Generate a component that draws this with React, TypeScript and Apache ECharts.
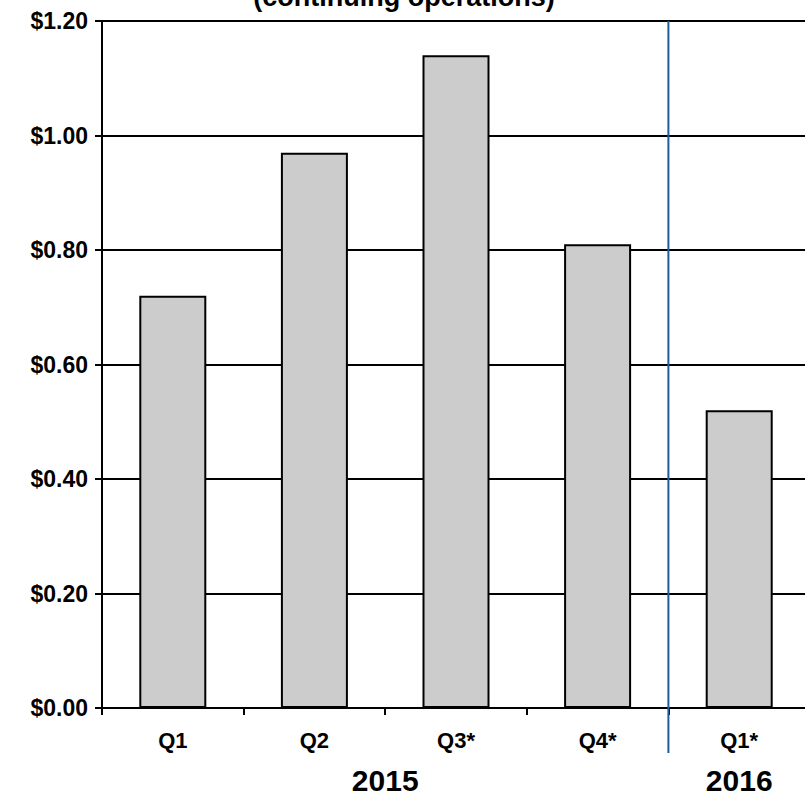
import React, { useEffect, useRef } from "react";
import * as echarts from "echarts";

const quarters = ["Q1", "Q2", "Q3*", "Q4*", "Q1*"];
const eps = [0.72, 0.97, 1.14, 0.81, 0.52];
const yearLabels = ["2015", "2016"];
const yearGroups = [[0, 3], [4, 4]];
const titleText = "(continuing operations)";

const FONT = "Arial, 'Liberation Sans', sans-serif";

export default function App() {
  const ref = useRef<HTMLDivElement>(null);
  useEffect(() => {
    const chart = echarts.init(ref.current!, null, { renderer: "svg" });
    chart.setOption({
      animation: false,
      backgroundColor: "#ffffff",
      grid: { left: 102, top: 21, bottom: 87, right: 0 },
      xAxis: {
        type: "category",
        data: quarters,
        axisLine: { show: true, lineStyle: { color: "#000", width: 2 } },
        axisTick: { show: true, length: 7, lineStyle: { color: "#000", width: 2 } },
        axisLabel: {
          color: "#000",
          fontFamily: FONT,
          fontWeight: "bold",
          fontSize: 22,
          margin: 21,
        },
      },
      yAxis: {
        type: "value",
        min: 0,
        max: 1.2,
        interval: 0.2,
        axisLine: { show: true, lineStyle: { color: "#000", width: 2 } },
        axisTick: { show: true, length: 7, lineStyle: { color: "#000", width: 2 } },
        splitLine: { show: true, lineStyle: { color: "#000", width: 2 } },
        axisLabel: {
          color: "#000",
          fontFamily: FONT,
          fontWeight: "bold",
          fontSize: 23,
          margin: 14,
          formatter: (v: number) => "$" + v.toFixed(2),
        },
      },
      series: [
        {
          type: "bar",
          data: eps,
          barWidth: 67,
          itemStyle: { color: "#cccccc", borderColor: "#000", borderWidth: 2 },
        },
      ],
    });

    const px = (i: number) => chart.convertToPixel({ xAxisIndex: 0 }, i) as number;
    const y0 = chart.convertToPixel({ yAxisIndex: 0 }, 0) as number;
    const yTop = chart.convertToPixel({ yAxisIndex: 0 }, 1.2) as number;
    const sepX = (px(3) + px(4)) / 2;

    const graphics: any[] = [
      {
        type: "line",
        shape: { x1: sepX, y1: yTop, x2: sepX, y2: y0 + 45 },
        style: { stroke: "#1f5c99", lineWidth: 2 },
        z: 100,
      },
      {
        type: "text",
        x: 404,
        y: -3,
        style: {
          text: titleText,
          fill: "#000",
          font: `bold 27px ${FONT}`,
          align: "center",
          verticalAlign: "middle",
        },
      },
    ];
    yearLabels.forEach((label, k) => {
      const [a, b] = yearGroups[k];
      const cx = (px(a) + px(b)) / 2;
      graphics.push({
        type: "text",
        x: cx,
        y: y0 + 72,
        style: {
          text: label,
          fill: "#000",
          font: `bold 30px ${FONT}`,
          align: "center",
          verticalAlign: "middle",
        },
      });
    });
    chart.setOption({ graphic: graphics });

    return () => chart.dispose();
  }, []);
  return (
    <div
      style={{
        position: "absolute",
        left: 0,
        top: 0,
        width: 805,
        height: 795,
        overflow: "hidden",
      }}
    >
      <div ref={ref} style={{ width: 810, height: 795 }} />
    </div>
  );
}
